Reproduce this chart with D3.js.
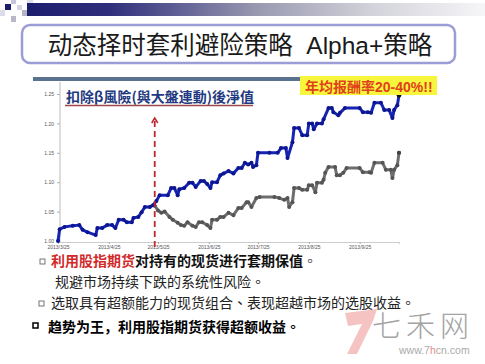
<!DOCTYPE html>
<meta charset="utf-8">
<head>
  <script src="https://d3js.org/d3.v7.min.js"></script>
  <style>
    body { margin: 0; background: #fff; }
    svg { display: block; }
  </style>
</head>
<body>
<div id="my_dataviz"></div>
<script>
  // blue: net value after removing beta risk, grey: the hedged branch after the arrow
  const blueDates = ["2013-03-25","2013-03-26","2013-03-29","2013-04-03","2013-04-07","2013-04-09","2013-04-12","2013-04-17","2013-04-18","2013-04-21","2013-04-24","2013-04-27","2013-04-29","2013-05-01","2013-05-04","2013-05-06","2013-05-09","2013-05-10","2013-05-13","2013-05-15","2013-05-17","2013-05-20","2013-05-22","2013-05-24","2013-05-26","2013-05-31","2013-06-02","2013-06-04","2013-06-06","2013-06-07","2013-06-10","2013-06-13","2013-06-15","2013-06-17","2013-06-20","2013-06-22","2013-06-24","2013-06-26","2013-06-27","2013-06-30","2013-07-02","2013-07-04","2013-07-07","2013-07-10","2013-07-13","2013-07-15","2013-07-17","2013-07-19","2013-07-21","2013-07-22","2013-07-24","2013-07-25","2013-08-01","2013-08-06","2013-08-08","2013-08-11","2013-08-12","2013-08-15","2013-08-16","2013-08-19","2013-08-21","2013-08-24","2013-08-25","2013-08-27","2013-08-28","2013-08-30","2013-09-02","2013-09-03","2013-09-06","2013-09-08","2013-09-09","2013-09-12","2013-09-13","2013-09-16","2013-09-25","2013-09-27","2013-09-30","2013-10-02","2013-10-04","2013-10-08","2013-10-10","2013-10-13","2013-10-15","2013-10-16","2013-10-18","2013-10-19"];
  const blueValues = [1.000,1.020,1.024,1.026,1.027,1.019,1.015,1.010,1.022,1.022,1.027,1.027,1.022,1.036,1.036,1.032,1.032,1.039,1.041,1.049,1.058,1.058,1.061,1.068,1.078,1.078,1.090,1.090,1.078,1.088,1.090,1.099,1.099,1.092,1.102,1.102,1.097,1.090,1.100,1.100,1.112,1.115,1.119,1.115,1.124,1.124,1.133,1.130,1.133,1.126,1.129,1.150,1.150,1.150,1.158,1.158,1.141,1.168,1.192,1.192,1.180,1.180,1.200,1.200,1.190,1.200,1.200,1.207,1.226,1.226,1.219,1.214,1.218,1.226,1.226,1.219,1.219,1.218,1.235,1.235,1.223,1.223,1.209,1.223,1.231,1.248];

  const greyDates = ["2013-05-23","2013-05-25","2013-05-27","2013-05-29","2013-06-01","2013-06-03","2013-06-06","2013-06-08","2013-06-10","2013-06-12","2013-06-15","2013-06-17","2013-06-19","2013-06-21","2013-06-24","2013-06-26","2013-06-27","2013-06-30","2013-07-02","2013-07-04","2013-07-07","2013-07-10","2013-07-13","2013-07-15","2013-07-18","2013-07-19","2013-07-21","2013-07-24","2013-07-26","2013-08-04","2013-08-07","2013-08-10","2013-08-12","2013-08-13","2013-08-15","2013-08-16","2013-08-19","2013-08-21","2013-08-24","2013-08-25","2013-08-27","2013-08-29","2013-08-30","2013-09-02","2013-09-03","2013-09-04","2013-09-06","2013-09-10","2013-09-11","2013-09-13","2013-09-15","2013-09-17","2013-09-25","2013-09-27","2013-10-01","2013-10-02","2013-10-04","2013-10-09","2013-10-11","2013-10-14","2013-10-15","2013-10-16","2013-10-18","2013-10-19"];
  const greyValues = [1.060,1.052,1.048,1.050,1.041,1.036,1.031,1.027,1.026,1.032,1.026,1.024,1.032,1.032,1.027,1.022,1.036,1.036,1.041,1.041,1.048,1.044,1.056,1.056,1.066,1.066,1.058,1.073,1.075,1.075,1.073,1.070,1.073,1.058,1.066,1.090,1.090,1.087,1.087,1.095,1.095,1.083,1.099,1.099,1.104,1.116,1.126,1.126,1.112,1.112,1.116,1.124,1.124,1.117,1.117,1.116,1.133,1.133,1.121,1.121,1.107,1.121,1.129,1.150];

  const xTickLabels = ["2013/3/25","2013/4/25","2013/5/25","2013/6/25","2013/7/25","2013/8/25","2013/9/25"];
  const yTicks = [1.00, 1.05, 1.10, 1.15, 1.20, 1.25];
  const splitDate = "2013-05-23";

  const W = 485, H = 364;
  const parseDay = d3.timeParse("%Y-%m-%d"), parseTick = d3.timeParse("%Y/%m/%d");
  const cjk = "'Noto Sans CJK SC', sans-serif", cjkTC = "'Noto Sans CJK TC', sans-serif";

  var svg = d3.select("#my_dataviz").append("svg")
    .attr("width", W).attr("height", H);

  // ---- slide decoration (top-left squares + gradient bar)
  var grad = svg.append("defs").append("linearGradient").attr("id", "bar");
  [[0, "#1d1d6e"], [0.18, "#2e2e7c"], [0.5, "#9898b0"], [0.75, "#d2d2da"], [1, "#f6f6f8"]]
    .forEach(s => grad.append("stop").attr("offset", s[0]).attr("stop-color", s[1]));
  svg.append("rect").attr("x", 27).attr("y", 3).attr("width", 458).attr("height", 13).attr("fill", "url(#bar)");
  [[5, 4, 6, 6, "#1d1d6e"], [11, 0, 5, 4, "#c4c4dc"], [17, 5, 5, 5, "#d4d4e6"], [22, 10, 5, 6, "#b4b4c4"],
   [11, 16, 5, 6, "#b8b8c8"], [0, 10, 5, 6, "#dcdce8"], [27, 0, 6, 3, "#e0e0ea"]]
    .forEach(s => svg.append("rect").attr("x", s[0]).attr("y", s[1]).attr("width", s[2]).attr("height", s[3]).attr("fill", s[4]));

  // ---- title box
  svg.append("rect").attr("x", 22).attr("y", 25).attr("width", 433).attr("height", 38).attr("rx", 8)
    .attr("fill", "#fff").attr("stroke", "#9c9cd6").attr("stroke-width", 2.5);
  var title = svg.append("text").attr("x", 240).attr("y", 54).attr("text-anchor", "middle")
    .attr("font-size", 24.5).attr("fill", "#1a1a1a").style("font-family", cjk);
  title.append("tspan").text("动态择时套利避险策略");
  title.append("tspan").style("font-family", "'Liberation Sans', Arial, sans-serif").text("\u00a0\u00a0Alpha+");
  title.append("tspan").text("策略");

  // ---- chart
  var x = d3.scaleTime().domain([parseDay("2013-03-25"), parseDay("2013-10-19")]).range([58, 399]);
  var y = d3.scaleLinear().domain([1.0, 1.25]).range([241, 94]);

  svg.append("rect").attr("x", 33).attr("y", 77).attr("width", 267).attr("height", 4).attr("fill", "#5a7290");

  var yAxis = svg.append("g").attr("transform", "translate(60,0)")
    .call(d3.axisLeft(y).tickValues(yTicks).tickFormat(d3.format(".2f")).tickSize(3).tickPadding(3));
  yAxis.select(".domain").remove();
  yAxis.selectAll("line").attr("stroke", "#aaa");
  yAxis.selectAll("text").attr("font-size", 5).attr("fill", "#555").style("font-family", "'Liberation Sans', sans-serif");
  svg.append("line").attr("x1", 60).attr("x2", 60).attr("y1", 82).attr("y2", 242).attr("stroke", "#bbb");

  var xAxis = svg.append("g").attr("transform", "translate(0,242)")
    .call(d3.axisBottom(x).tickValues(xTickLabels.map(parseTick)).tickFormat((d, i) => xTickLabels[i]).tickSize(2).tickPadding(1.5));
  xAxis.select(".domain").attr("stroke", "#ccc");
  xAxis.selectAll("line").attr("stroke", "#aaa");
  xAxis.selectAll("text").attr("font-size", 5).attr("fill", "#555").style("font-family", "'Liberation Sans', sans-serif");

  var line = d3.line().x(d => x(d[0])).y(d => y(d[1]));
  var grey = d3.zip(greyDates.map(parseDay), greyValues);
  var blue = d3.zip(blueDates.map(parseDay), blueValues);

  function drawSeries(data, color, marker) {
    svg.append("path").datum(data).attr("d", line)
      .attr("fill", "none").attr("stroke", color).attr("stroke-width", 3).attr("stroke-linejoin", "round");
    svg.append("g").selectAll("circle").data(data).enter().append("circle")
      .attr("cx", d => x(d[0])).attr("cy", d => y(d[1])).attr("r", 2).attr("fill", marker);
  }
  drawSeries(grey, "#6e6e6e", "#555");
  drawSeries(blue, "#1624b4", "#0c1690");
  svg.append("circle").attr("cx", x(blue[blue.length - 1][0])).attr("cy", y(blue[blue.length - 1][1]))
    .attr("r", 2.3).attr("fill", "#111");
  svg.append("circle").attr("cx", x(grey[grey.length - 1][0])).attr("cy", y(grey[grey.length - 1][1]))
    .attr("r", 2.1).attr("fill", "#444");

  // red dashed arrow at the split
  var sx = x(parseDay(splitDate));
  svg.append("line").attr("x1", sx).attr("x2", sx).attr("y1", 121).attr("y2", 250)
    .attr("stroke", "#c0272d").attr("stroke-width", 1.8).attr("stroke-dasharray", "6,4");
  svg.append("path").attr("d", `M${sx - 3},${123} L${sx},${118} L${sx + 3},${123}`)
    .attr("fill", "none").attr("stroke", "#c0272d").attr("stroke-width", 1.5);

  // chart caption
  svg.append("text").attr("x", 66).attr("y", 102).attr("font-size", 14).attr("font-weight", "bold")
    .attr("fill", "#1f3a80").style("font-family", cjk).text("扣除β風險(與大盤連動)後淨值");
  svg.append("line").attr("x1", 65).attr("x2", 253).attr("y1", 105.5).attr("y2", 105.5)
    .attr("stroke", "#a04848").attr("stroke-width", 1.5);

  svg.append("rect").attr("x", 300).attr("y", 76).attr("width", 137).attr("height", 19).attr("fill", "#f7f53c");
  var badge = svg.append("text").attr("x", 305).attr("y", 92).attr("font-size", 14).attr("font-weight", "bold")
    .attr("fill", "#e0401c").style("font-family", cjk);
  badge.append("tspan").text("年均报酬率");
  badge.append("tspan").style("font-family", "'Liberation Sans', Arial, sans-serif").text("20-40%!!");

  // ---- bullets
  function bullet(bx, by, s, col, sw) {
    svg.append("rect").attr("x", bx).attr("y", by).attr("width", s).attr("height", s)
      .attr("fill", "none").attr("stroke", col).attr("stroke-width", sw);
  }
  bullet(40, 259, 5, "#666", 0.9);
  var t1 = svg.append("text").attr("x", 51).attr("y", 266).attr("font-size", 14).attr("font-weight", "bold").style("font-family", cjk);
  t1.append("tspan").attr("fill", "#d22a2a").text("利用股指期货");
  t1.append("tspan").attr("fill", "#111").text("对持有的现货进行套期保值");
  t1.append("tspan").attr("fill", "#444").style("font-family", cjkTC).attr("font-weight", "normal").text("。");

  var t2 = svg.append("text").attr("x", 55).attr("y", 287).attr("font-size", 14).attr("fill", "#222").style("font-family", cjk);
  t2.append("tspan").text("规避市场持续下跌的系统性风险");
  t2.append("tspan").style("font-family", cjkTC).text("。");

  bullet(39, 301, 5, "#666", 0.9);
  var t3 = svg.append("text").attr("x", 51).attr("y", 308).attr("font-size", 14).attr("fill", "#222").style("font-family", cjk);
  t3.append("tspan").text("选取具有超额能力的现货组合");
  t3.append("tspan").style("font-family", cjkTC).text("、");
  t3.append("tspan").text("表现超越市场的选股收益");
  t3.append("tspan").style("font-family", cjkTC).text("。");

  bullet(33, 323, 5, "#000", 1.5);
  var t4 = svg.append("text").attr("x", 48).attr("y", 332).attr("font-size", 14).attr("font-weight", "bold").attr("fill", "#000").style("font-family", cjk);
  t4.append("tspan").text("趋势为王，利用股指期货获得超额收益");
  t4.append("tspan").style("font-family", cjkTC).text("。");

  // ---- watermark
  svg.append("path").attr("d", "M345,313 L377,309 L373,321 L357,354 L347,354 L362,324 L348,326 Z")
    .attr("fill", "#f4b4b4").attr("opacity", 0.8);
  svg.append("text").attr("x", 372).attr("y", 337).attr("font-size", 29).attr("letter-spacing", 5)
    .attr("fill", "#a4a4a4").attr("font-weight", 300).style("font-family", cjk).text("七禾网");
  var www = svg.append("text").attr("x", 399).attr("y", 354).attr("font-size", 10.5).attr("fill", "#aaa")
    .style("font-family", "'Liberation Sans', Arial, sans-serif");
  www.append("tspan").text("www.7");
  www.append("tspan").attr("fill", "#e88").text("h");
  www.append("tspan").text("cn.com");
</script>
</body>
